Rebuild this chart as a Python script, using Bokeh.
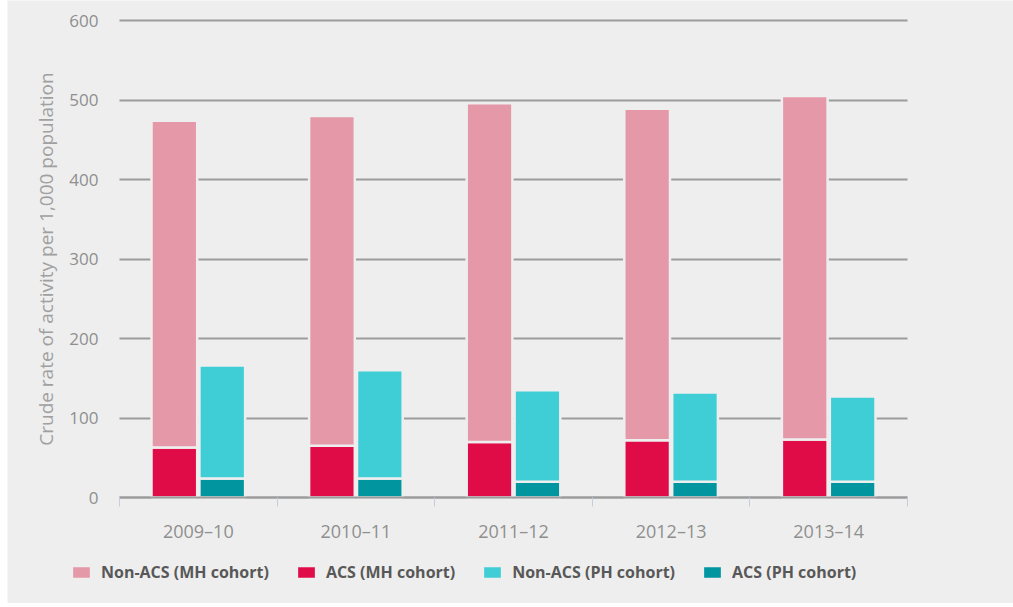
import math

from bokeh.plotting import figure
from bokeh.models import (ColumnDataSource, Range1d, FixedTicker, Legend, LegendItem,
                          LinearAxis, Grid, Label)
from bokeh.embed import file_html
from bokeh.resources import INLINE

# Financial years and crude rates of activity per 1,000 population
years = ["2009\u201310", "2010\u201311", "2011\u201312", "2012\u201313", "2013\u201314"]
mh_acs = [63, 65, 70, 72, 73]          # ACS (MH cohort)
mh_non_acs = [411, 415, 426, 417, 432]  # Non-ACS (MH cohort)
ph_acs = [24, 24, 20, 20, 20]           # ACS (PH cohort)
ph_non_acs = [142, 136, 115, 112, 107]  # Non-ACS (PH cohort)
y_ticks = [0, 100, 200, 300, 400, 500, 600]
y_title = "Crude rate of activity per 1,000 population"

BG = "#eeeeee"
GRID = "#9c9c9c"
C_MH_NON = "#e498a8"
C_MH_ACS = "#e00c48"
C_PH_NON = "#40ced6"
C_PH_ACS = "#00959f"
TEXT = "#8f8f8f"
FONT = "Open Sans"

n = len(years)
centers = [i + 0.5 for i in range(n)]
bar_w = 0.29
off = 0.152

src = ColumnDataSource(dict(
    x_mh=[c - off for c in centers],
    x_ph=[c + off for c in centers],
    mh_acs=mh_acs,
    mh_non=mh_non_acs,
    ph_acs=ph_acs,
    ph_non=ph_non_acs,
))

# The frame fills the whole canvas; the ranges leave room round the bars
# for the axis labels and the legend underneath.
p = figure(frame_width=1006, frame_height=603,
           x_range=Range1d(-0.7107, n + 0.6726), y_range=Range1d(-133.3, 625.2),
           output_backend="svg", toolbar_location=None,
           min_border=0,
           background_fill_color=BG, border_fill_color=BG,
           x_axis_type=None, y_axis_type=None)
p.outline_line_color = None
p.margin = (0, 0, 4, 7)

# y axis: labels only, pinned to the left edge of the bar area
yax = LinearAxis(ticker=FixedTicker(ticks=y_ticks), fixed_location=0)
yax.axis_line_color = None
yax.major_tick_line_color = None
yax.minor_tick_line_color = None
yax.major_label_standoff = 15
yax.major_label_text_font = FONT
yax.major_label_text_font_size = "17px"
yax.major_label_text_color = TEXT
p.add_layout(yax, "left")

# y axis title, centred on the value range
p.add_layout(Label(x=38, x_units="screen", y=300, text=y_title, angle=math.pi / 2,
                   text_align="center", text_baseline="middle",
                   text_font=FONT, text_font_size="19px", text_color="#a0a0a0"))

# x axis at zero: labels at category centres, small ticks on category boundaries
xax = LinearAxis(ticker=FixedTicker(ticks=centers, minor_ticks=[float(i) for i in range(n + 1)]),
                 fixed_location=0, bounds=(0, n))
xax.major_label_overrides = {c: y for c, y in zip(centers, years)}
xax.axis_line_color = GRID
xax.axis_line_width = 2
xax.major_tick_line_color = None
xax.minor_tick_line_color = "#c5cfdc"
xax.minor_tick_line_width = 1
xax.minor_tick_in = 0
xax.minor_tick_out = 9
xax.major_label_standoff = 12
xax.major_label_text_font = FONT
xax.major_label_text_font_size = "18px"
xax.major_label_text_color = TEXT
p.add_layout(xax, "below")

# horizontal grid lines across the bar area only
p.add_layout(Grid(dimension=1, ticker=FixedTicker(ticks=y_ticks), cross_bounds=(0, n),
                  grid_line_color=GRID, grid_line_width=2))

mh = p.vbar_stack(["mh_acs", "mh_non"], x="x_mh", width=bar_w, source=src,
                  color=[C_MH_ACS, C_MH_NON], line_color=BG, line_width=2.5)
ph = p.vbar_stack(["ph_acs", "ph_non"], x="x_ph", width=bar_w, source=src,
                  color=[C_PH_ACS, C_PH_NON], line_color=BG, line_width=2.5)

legend = Legend(items=[
    LegendItem(label="Non-ACS (MH cohort)", renderers=[mh[1]]),
    LegendItem(label="ACS (MH cohort)", renderers=[mh[0]]),
    LegendItem(label="Non-ACS (PH cohort)", renderers=[ph[1]]),
    LegendItem(label="ACS (PH cohort)", renderers=[ph[0]]),
], orientation="horizontal", location=(62, 20))
legend.background_fill_alpha = 0
legend.border_line_color = None
legend.padding = 0
legend.margin = 0
legend.spacing = 25
legend.glyph_width = 24
legend.glyph_height = 16
legend.label_standoff = 8
legend.label_text_font = FONT
legend.label_text_font_style = "bold"
legend.label_text_font_size = "16px"
legend.label_text_color = "#585858"
p.add_layout(legend, "center")

open("out.html", "w").write(file_html(p, INLINE))
